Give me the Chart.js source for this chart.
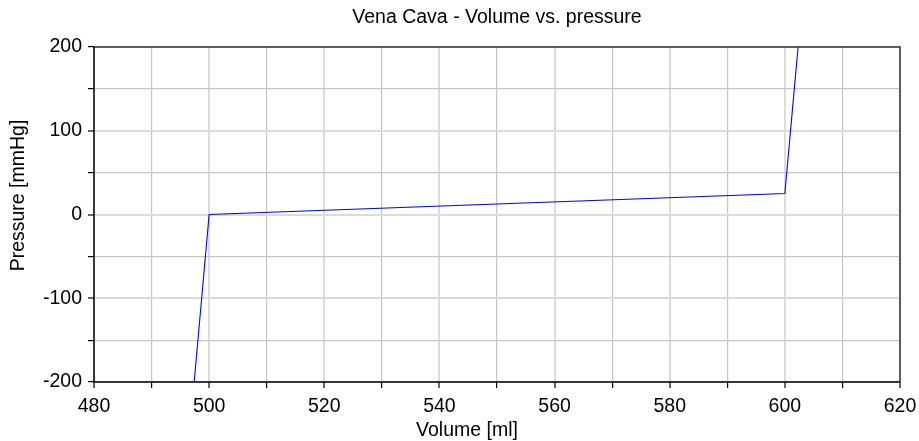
<!DOCTYPE html>
<html>
<head>
<meta charset="utf-8">
<script src="https://cdn.jsdelivr.net/npm/chart.js@4"></script>
<style>
html,body{margin:0;padding:0;background:#fff;}
#wrap{width:919px;height:441px;}
</style>
</head>
<body>
<div id="wrap"><canvas id="c" width="919" height="441"></canvas></div>
<script>
const volume = [497.4, 500, 600, 602.3];
const pressure = [-200, 0, 25, 200];
const xMajorTicks = [480, 500, 520, 540, 560, 580, 600, 620];
const yMajorTicks = [-200, -100, 0, 100, 200];
const chartTitle = 'Vena Cava - Volume vs. pressure';
const xTitle = 'Volume [ml]';
const yTitle = 'Pressure [mmHg]';

const points = volume.map((v, i) => ({x: v, y: pressure[i]}));
const FONT = "'Liberation Sans', Arial, sans-serif";
const FS = 19.5;

const framePlugin = {
  id: 'frame',
  afterDatasetsDraw(chart) {
    const {ctx, chartArea: a} = chart;
    ctx.save();
    ctx.strokeStyle = '#333';
    ctx.lineWidth = 1.5;
    ctx.beginPath();
    ctx.moveTo(a.left, a.top); ctx.lineTo(a.right, a.top); ctx.lineTo(a.right, a.bottom);
    ctx.stroke();
    ctx.strokeStyle = '#000';
    ctx.beginPath();
    ctx.moveTo(a.left, a.top); ctx.lineTo(a.left, a.bottom); ctx.lineTo(a.right, a.bottom);
    ctx.stroke();
    // axis titles
    ctx.fillStyle = '#000';
    ctx.font = FS + "px " + FONT;
    ctx.textAlign = 'center';
    ctx.textBaseline = 'middle';
    ctx.fillText(xTitle, (a.left + a.right) / 2 - 30, a.bottom + 49);
    ctx.translate(19, (a.top + a.bottom) / 2 - 19);
    ctx.rotate(-Math.PI / 2);
    ctx.fillText(yTitle, 0, 0);
    ctx.restore();
  }
};

const gridColor = (ctx, majors) => majors.includes(ctx.tick && ctx.tick.value) ? '#dcdcdc' : '#c6c6c6';
const gridWidth = (ctx, majors) => majors.includes(ctx.tick && ctx.tick.value) ? 2 : 1.2;

new Chart(document.getElementById('c'), {
  type: 'scatter',
  data: {
    datasets: [{
      data: points,
      showLine: true,
      borderColor: '#0000ff',
      backgroundColor: '#0000ff',
      borderWidth: 1.1,
      pointRadius: 0,
      tension: 0
    }]
  },
  options: {
    responsive: false,
    animation: false,
    devicePixelRatio: 1,
    layout: {padding: {left: 0, right: 19, top: 0, bottom: 0}},
    plugins: {
      legend: {display: false},
      tooltip: {enabled: false},
      title: {
        display: true,
        fullSize: false,
        text: chartTitle,
        color: '#000',
        font: {family: FONT, size: FS, weight: 'normal'},
        padding: {top: 6, bottom: 17.6}
      }
    },
    scales: {
      x: {
        type: 'linear',
        min: 480, max: 620,
        ticks: {
          stepSize: 10,
          autoSkip: false,
          maxRotation: 0,
          color: '#000',
          font: {family: FONT, size: FS},
          padding: 7,
          callback: (v) => xMajorTicks.includes(v) ? String(v) : ''
        },
        grid: {
          color: (c) => gridColor(c, xMajorTicks),
          lineWidth: (c) => gridWidth(c, xMajorTicks),
          tickLength: 6, tickColor: '#000', tickWidth: 1.2, drawTicks: true
        },
        border: {display: false},
        afterFit: (s) => { s.height = 59; s.paddingLeft = 0; s.paddingRight = 0; }
      },
      y: {
        type: 'linear',
        min: -200, max: 200,
        ticks: {
          stepSize: 50,
          autoSkip: false,
          color: '#000',
          font: {family: FONT, size: FS},
          padding: 6,
          callback: (v) => yMajorTicks.includes(v) ? String(v) : ''
        },
        grid: {
          color: (c) => gridColor(c, [-100, 0, 100]),
          lineWidth: (c) => gridWidth(c, [-100, 0, 100]),
          tickLength: 6, tickColor: '#000', tickWidth: 1.2, drawTicks: true
        },
        border: {display: false},
        afterFit: (s) => { s.width = 94; s.paddingTop = 0; s.paddingBottom = 0; }
      }
    }
  },
  plugins: [framePlugin]
});
</script>
</body>
</html>
